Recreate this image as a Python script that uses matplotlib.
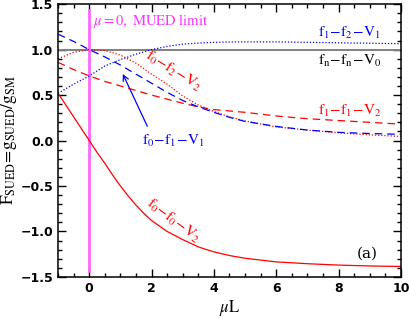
import numpy as np
import matplotlib
matplotlib.use("Agg")
import matplotlib.pyplot as plt
from matplotlib.ticker import MultipleLocator

plt.rcParams['mathtext.fontset'] = 'stix'

# values
mu_L = [-1, -0.5, 0, 0.5, 1, 1.5, 2, 2.5, 3, 3.5, 4, 4.5, 5, 6, 7, 8, 9, 10]

f1f2V1 = [0.52, 0.62, 0.71, 0.82, 0.89, 0.95, 1.0, 1.035, 1.06, 1.072,
          1.08, 1.084, 1.085, 1.085, 1.08, 1.075, 1.07, 1.065]
f0f2V2 = [0.90, 0.97, 1.0, 0.99, 0.94, 0.85, 0.73, 0.62, 0.49, 0.39,
          0.32, 0.26, 0.215, 0.15, 0.115, 0.085, 0.062, 0.045]
f1f1V2 = [0.86, 0.78, 0.71, 0.65, 0.60, 0.55, 0.50, 0.455, 0.41, 0.37,
          0.34, 0.325, 0.31, 0.27, 0.24, 0.22, 0.20, 0.18]
f0f1V1 = [1.17, 1.09, 1.0, 0.92, 0.83, 0.73, 0.63, 0.53, 0.44, 0.37,
          0.31, 0.255, 0.21, 0.155, 0.115, 0.09, 0.077, 0.068]
fnfnV0 = [1.0] * len(mu_L)

mu_L_00 = [-1, -0.75, -0.5, -0.25, 0, 0.25, 0.5, 0.75, 1, 1.25, 1.5, 1.75,
           2, 2.5, 3, 3.5, 4, 4.5, 5, 6, 7, 8, 9, 10]
f0f0V2 = [0.52, 0.39, 0.26, 0.13, 0.0, -0.13, -0.25, -0.38, -0.50, -0.61,
          -0.71, -0.80, -0.88, -1.00, -1.09, -1.17, -1.225, -1.265, -1.295,
          -1.335, -1.355, -1.37, -1.38, -1.385]

fig = plt.figure(figsize=(4.09, 3.19), dpi=100)
ax = fig.add_axes([0.142, 0.132, 0.838, 0.855])

ax.plot(mu_L, fnfnV0, color='#808080', lw=1.4)
ax.axvline(0, ymin=0.022, ymax=0.978, color='#ff66ff', lw=2)
ax.plot(mu_L_00, f0f0V2, color='red', lw=0.9)
ax.plot(mu_L, f1f2V1, color='blue', lw=0.9, dashes=(1, 1.5))
ax.plot(mu_L, f0f2V2, color='red', lw=0.9, dashes=(1, 1.5))
ax.plot(mu_L, f1f1V2, color='red', lw=0.9, dashes=(6, 4))
ax.plot(mu_L, f0f1V1, color='blue', lw=0.9, dashes=(6, 4))

ax.set_xlim(-1, 10)
ax.set_ylim(-1.5, 1.5)
ax.xaxis.set_major_locator(MultipleLocator(2))
ax.xaxis.set_minor_locator(MultipleLocator(0.5))
ax.yaxis.set_major_locator(MultipleLocator(0.5))
ax.yaxis.set_minor_locator(MultipleLocator(0.1))
ax.tick_params(which='both', direction='in', top=True, right=True, width=1)
ax.tick_params(which='major', length=6, labelsize=9)
ax.tick_params(which='minor', length=3)
for lab in ax.get_xticklabels() + ax.get_yticklabels():
    lab.set_fontweight('bold')
for sp in ax.spines.values():
    sp.set_linewidth(1.1)

ax.set_xlabel(r'$\mu\mathrm{L}$', fontsize=12, labelpad=2)
ax.set_ylabel(r'$\mathrm{F_{SUED}\!=\!g_{SUED}/g_{SM}}$', fontsize=12.5, labelpad=1)

fs = 11
ax.text(0.12, 1.32, r'$\mu\mathrm{=0,\ MUED\ limit}$', color='#ff33ff',
        fontsize=10.5, va='center')
ax.text(8.33, 1.18, r'$\mathrm{f_1\!-\!f_2\!-\!V_1}$', color='blue',
        fontsize=fs, ha='center', va='center')
ax.text(8.36, 0.87, r'$\mathrm{f_n\!-\!f_n\!-\!V_0}$', color='black',
        fontsize=fs, ha='center', va='center')
ax.text(8.36, 0.32, r'$\mathrm{f_1\!-\!f_1\!-\!V_2}$', color='red',
        fontsize=fs, ha='center', va='center')
ax.text(2.68, 0.76, r'$\mathrm{f_0\!-\!f_2\!-\!V_2}$', color='red',
        fontsize=fs, ha='center', va='center', rotation=-32)
ax.text(2.7, -0.88, r'$\mathrm{f_0\!-\!f_0\!-\!V_2}$', color='red',
        fontsize=fs, ha='center', va='center', rotation=-37)
ax.text(2.69, 0.0, r'$\mathrm{f_0\!-\!f_1\!-\!V_1}$', color='blue',
        fontsize=fs, ha='center', va='center')
ax.text(8.93, -1.24, '(a)', fontsize=fs, family='serif', ha='center', va='center')

ax.annotate('', xy=(1.04, 0.76), xytext=(1.9, 0.13),
            arrowprops=dict(arrowstyle='->', color='blue', lw=0.9))

fig.savefig('out.png', dpi=100)
